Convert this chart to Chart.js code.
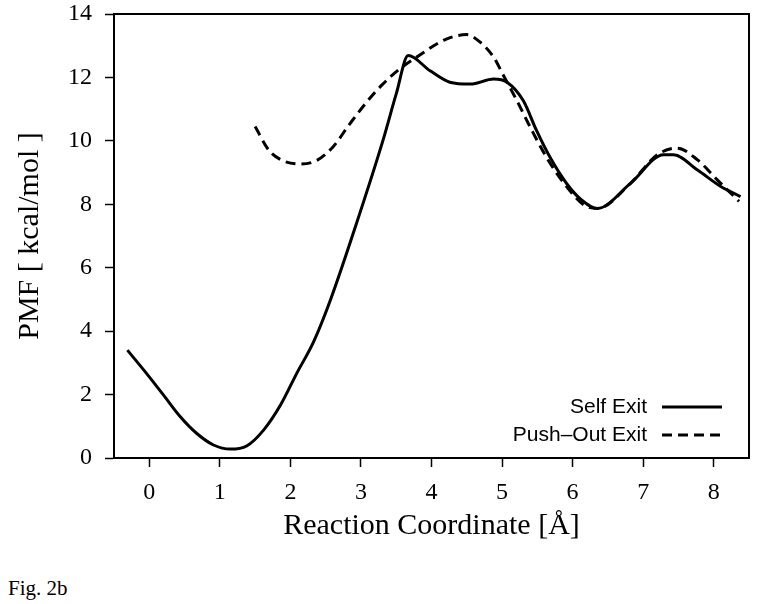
<!DOCTYPE html>
<html>
<head>
<meta charset="utf-8">
<script src="https://cdn.jsdelivr.net/npm/chart.js@4/dist/chart.umd.min.js"></script>
<style>
  html, body { margin: 0; padding: 0; background: #fff; }
  #wrap { position: relative; width: 761px; height: 604px; }
  #fig { position: absolute; left: 8px; top: 576px; font: 21px "Liberation Serif", serif; color: #000; }
</style>
</head>
<body>
<div id="wrap">
  <canvas id="chart" width="761" height="560"></canvas>
  <div id="fig">Fig. 2b</div>
</div>
<script>
const seriesNames = ['Self Exit', 'Push\u2013Out Exit'];

const selfX = [-0.31, -0.04, 0.20, 0.44, 0.67, 0.91, 1.15, 1.38, 1.62, 1.86, 2.09, 2.33, 2.57, 2.98, 3.31, 3.50, 3.67,
  3.98, 4.26, 4.55, 4.88, 5.07, 5.30, 5.49, 5.68, 5.92, 6.11, 6.35, 6.82, 7.29, 7.43, 7.77, 8.10, 8.38];
const selfY = [3.40, 2.67, 1.99, 1.30, 0.78, 0.41, 0.28, 0.38, 0.88, 1.67, 2.67, 3.67, 5.00, 7.69, 10.00, 11.48, 12.69,
  12.21, 11.85, 11.79, 11.95, 11.85, 11.27, 10.32, 9.48, 8.64, 8.17, 7.87, 8.66, 9.56, 9.56, 9.08, 8.56, 8.24];

const pushX = [1.50, 1.70, 1.89, 2.13, 2.37, 2.60, 2.84, 3.08, 3.31, 3.55, 3.79, 4.21, 4.50, 4.69, 4.88, 5.02, 5.21,
  5.40, 5.63, 5.92, 6.16, 6.35, 6.82, 7.20, 7.48, 7.77, 8.05, 8.36];
const pushY = [10.45, 9.69, 9.38, 9.27, 9.38, 9.80, 10.53, 11.22, 11.79, 12.27, 12.64, 13.21, 13.35, 13.11, 12.64, 12.06, 11.27,
  10.43, 9.48, 8.54, 7.98, 7.87, 8.66, 9.56, 9.77, 9.40, 8.77, 8.09];

const xTicks = [0, 1, 2, 3, 4, 5, 6, 7, 8];
const yTicks = [0, 2, 4, 6, 8, 10, 12, 14];

const toPoints = (xs, ys) => xs.map((x, i) => ({ x: x, y: ys[i] }));

// frame round the plot area
const frame = {
  id: 'frame',
  afterDraw(chart) {
    const { ctx, chartArea: a } = chart;
    ctx.save();
    ctx.strokeStyle = '#000';
    ctx.lineWidth = 2;
    ctx.strokeRect(a.left, a.top, a.right - a.left, a.bottom - a.top);
    ctx.restore();
  }
};

// legend with text on the left and line sample on the right
const sideLegend = {
  id: 'sideLegend',
  afterDraw(chart) {
    const { ctx } = chart;
    ctx.save();
    ctx.font = '21px "Liberation Sans", Arial, sans-serif';
    ctx.fillStyle = '#000';
    ctx.textAlign = 'right';
    ctx.textBaseline = 'middle';
    chart.data.datasets.forEach((ds, i) => {
      const y = 407 + i * 28;
      ctx.fillText(ds.label, 647, y);
      ctx.strokeStyle = '#000';
      ctx.lineWidth = 3;
      ctx.setLineDash(ds.borderDash || []);
      ctx.beginPath();
      ctx.moveTo(662, y);
      ctx.lineTo(722, y);
      ctx.stroke();
    });
    ctx.restore();
  }
};

new Chart(document.getElementById('chart'), {
  type: 'line',
  data: {
    datasets: [
      {
        label: seriesNames[0],
        data: toPoints(selfX, selfY),
        borderColor: '#000',
        borderWidth: 3,
        pointRadius: 0,
        cubicInterpolationMode: 'monotone'
      },
      {
        label: seriesNames[1],
        data: toPoints(pushX, pushY),
        borderColor: '#000',
        borderWidth: 3,
        borderDash: [10, 6],
        pointRadius: 0,
        cubicInterpolationMode: 'monotone'
      }
    ]
  },
  options: {
    responsive: false,
    animation: false,
    layout: { padding: { top: 14, right: 12, left: 0, bottom: 0 } },
    plugins: { legend: { display: false }, tooltip: { enabled: false } },
    scales: {
      x: {
        type: 'linear',
        min: -0.5,
        max: 8.5,
        afterBuildTicks: s => { s.ticks = xTicks.map(v => ({ value: v })); },
        afterFit: s => { s.height = 102; s.paddingLeft = 0; s.paddingRight = 0; },
        grid: { display: true, drawOnChartArea: false, drawTicks: true, tickLength: 9, color: '#000', tickWidth: 1.5 },
        border: { display: true, color: '#000', width: 2 },
        ticks: { color: '#000', padding: 11, font: { family: '"Liberation Serif", serif', size: 24 }, maxRotation: 0 },
        title: { display: true, text: 'Reaction Coordinate [\u00c5]', color: '#000', padding: { top: 0, bottom: 16 },
          font: { family: '"Liberation Serif", serif', size: 30 } }
      },
      y: {
        min: 0,
        max: 14,
        afterBuildTicks: s => { s.ticks = yTicks.map(v => ({ value: v })); },
        afterFit: s => { s.width = 114; s.paddingTop = 0; s.paddingBottom = 0; },
        grid: { display: true, drawOnChartArea: false, drawTicks: true, tickLength: 9, color: '#000', tickWidth: 1.5 },
        border: { display: true, color: '#000', width: 2 },
        ticks: { color: '#000', padding: 13, font: { family: '"Liberation Serif", serif', size: 24 } },
        title: { display: true, text: 'PMF [ kcal/mol ]', color: '#000', padding: { top: 12, bottom: 0 },
          font: { family: '"Liberation Serif", serif', size: 30 } }
      }
    }
  },
  plugins: [frame, sideLegend]
});
</script>
</body>
</html>
